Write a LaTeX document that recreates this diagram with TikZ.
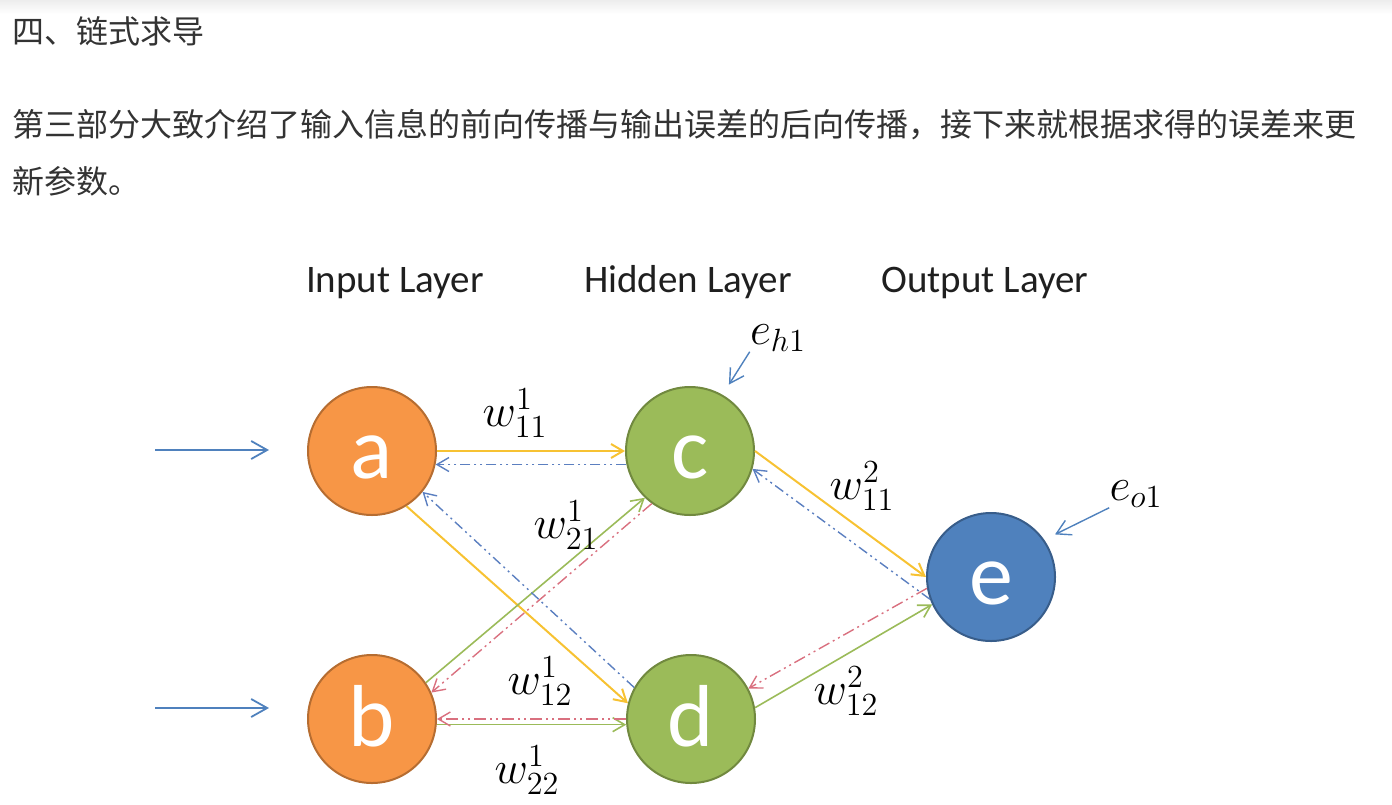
\RequirePackage{fix-cm}
\documentclass[tikz,border=0pt]{standalone}
\usepackage{fontspec}
\usepackage{xcolor}
\usepackage{tikz}
\usetikzlibrary{arrows.meta,positioning,calc}
\newfontfamily\cjkfont{Noto Sans CJK SC}
\newfontfamily\calfont{Carlito}
\definecolor{nodeorange}{HTML}{F79646}
\definecolor{nodeorangeline}{HTML}{B66D31}
\definecolor{nodegreen}{HTML}{9BBB59}
\definecolor{nodegreenline}{HTML}{71893F}
\definecolor{nodeblue}{HTML}{4F81BD}
\definecolor{nodeblueline}{HTML}{385D8A}
\definecolor{fwdyellow}{HTML}{F7C232}
\definecolor{fwdgreen}{HTML}{9BBB59}
\definecolor{bckblue}{HTML}{5B7FC0}
\definecolor{bckpink}{HTML}{D9707F}
\definecolor{textgray}{HTML}{333333}

\begin{document}
\begin{tikzpicture}[
  x=0.5pt, y=-0.5pt,
  neuron/.style  = {circle, minimum size=64pt, inner sep=0pt, line width=1pt,
                    text=white, font=\calfont\fontsize{44}{44}\selectfont,
                    text height=27pt, text depth=0pt},
  inneur/.style  = {neuron, fill=nodeorange, draw=nodeorangeline},
  hidneur/.style = {neuron, fill=nodegreen, draw=nodegreenline},
  outneur/.style = {neuron, fill=nodeblue, draw=nodeblueline},
  layer/.style   = {font=\calfont\fontsize{19.5}{20}\selectfont, text=black!88,
                    anchor=base, inner sep=0pt},
  wlbl/.style    = {font=\fontsize{23}{26}\selectfont, inner sep=0pt},
  cjk/.style     = {font=\cjkfont\fontsize{16}{16}\selectfont, text=textgray,
                    anchor=west, inner sep=0pt},
  inarr/.style   = {-{Straight Barb[length=8pt,width=9pt]}, draw=nodeblue,
                    line width=0.9pt},
  errin/.style   = {-{Straight Barb[length=7pt,width=8pt]}, draw=nodeblue,
                    line width=0.7pt},
  fwdy/.style    = {-{Straight Barb[length=6pt,width=7pt]}, draw=fwdyellow,
                    line width=1pt},
  fwdg/.style    = {-{Straight Barb[length=6pt,width=7pt]}, draw=fwdgreen,
                    line width=0.8pt},
  bckb/.style    = {-{Straight Barb[length=6pt,width=7pt]}, draw=bckblue,
                    line width=0.7pt,
                    dash pattern=on 5pt off 2pt on 1pt off 2pt on 1pt off 2pt},
  bckp/.style    = {-{Straight Barb[length=6pt,width=7pt]}, draw=bckpink,
                    line width=0.7pt,
                    dash pattern=on 6pt off 2pt on 1pt off 2pt on 1pt off 2pt}
]
\useasboundingbox (0,0) rectangle (1392,804);
\shade[top color=black!7, bottom color=white] (0,0) rectangle (1392,14);

%%%%%%%%%%%%%%%%%%%%%%% TEXT ABOVE %%%%%%%%%%%%%%%%%%%%%%%%%%%%%%%%%%%%%%%%%%%
\node[cjk] (title) at (12,31) {四、链式求导};
\node[cjk] (para1) at (12,125)
      {第三部分大致介绍了输入信息的前向传播与输出误差的后向传播，接下来就根据求得的误差来更};
\node[cjk] (para2) at (12,181) {新参数。};

%%%%%%%%%%%%%%%%%%%%%%% NETWORK %%%%%%%%%%%%%%%%%%%%%%%%%%%%%%%%%%%%%%%%%%%%%%
\node[layer] (linput)  at (395,292) {Input Layer};
\node[layer] (lhidden) at (688,292) {Hidden Layer};
\node[layer] (loutput) at (985,292) {Output Layer};

\node[inneur]  (a) at (372,451) {a};
\node[inneur]  (b) at (372,719) {b};
\node[hidneur] (c) at (690,451) {c};
\node[hidneur] (d) at (691,719) {d};
\node[outneur] (e) at (991,577) {e};

\coordinate (ina) at (155,450);
\coordinate (inb) at (155,708);
\draw[inarr, shorten >=19pt] (ina) -- (ina -| a.west);
\draw[inarr, shorten >=19pt] (inb) -- (inb -| b.west);

% forward pass
\draw[fwdy] (a.east)  -- (c.west);
\draw[fwdy] (a.-58)   -- (d.166);
\draw[fwdg] (b.34)    -- (c.226);
\draw[fwdg] (b.-5)    -- (d.185);
\draw[fwdy] (c.east)  -- (e.west);
\draw[fwdg] (d.10)    -- (e.205);

% backward pass
\draw[bckb] (c.192)   -- (a.-12);
\draw[bckb] (d.151)   -- (a.-39);
\draw[bckp] (c.234)   -- (b.24);
\draw[bckp] (d.west)  -- (b.east);
\draw[bckb] (e.200)   -- (c.-16);
\draw[bckp] (e.190)   -- (d.28);

% weights
\node[wlbl] (w111) at (515,413) {$w_{11}^{1}$};
\node[wlbl] (w121) at (566,525) {$w_{21}^{1}$};
\node[wlbl] (w112) at (540,681) {$w_{12}^{1}$};
\node[wlbl] (w122) at (527,770) {$w_{22}^{1}$};
\node[wlbl] (w211) at (862,486) {$w_{11}^{2}$};
\node[wlbl] (w212) at (846,691) {$w_{12}^{2}$};

% errors
\node[wlbl] (eh1) at (778,338) {$e_{h1}$};
\node[wlbl] (eo1) at (1136,494) {$e_{o1}$};
\draw[errin, shorten >=6pt] (eh1.south west) -- (c.60);
\draw[errin, shorten >=6pt] (eo1.south west) -- (e.35);
\end{tikzpicture}
\end{document}
